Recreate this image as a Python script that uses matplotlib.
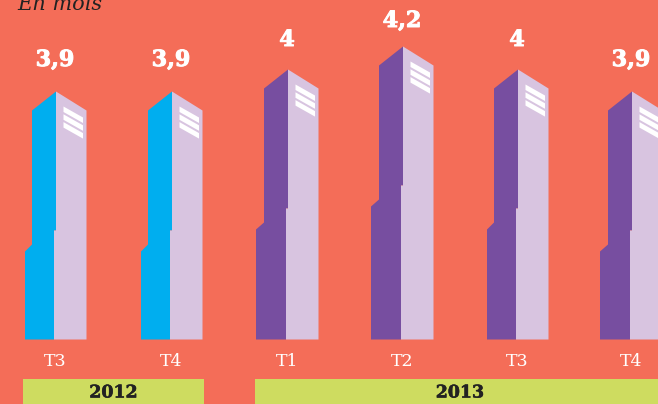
import matplotlib
matplotlib.use("Agg")
import matplotlib.pyplot as plt
import matplotlib.patheffects as pe
from matplotlib.patches import Polygon, Rectangle

quarters = ["T3", "T4", "T1", "T2", "T3", "T4"]
values = ["3,9", "3,9", "4", "4,2", "4", "3,9"]
tower_heights = [248, 248, 270, 293, 270, 248]  # drawn height of each tower
tower_spines = [56, 172, 288, 403, 518, 632]
tower_foot = [31, 31, 32, 32, 31, 32]
label_y = [60, 60, 40, 21, 40, 60]
tower_colors = ["#00AEEF", "#00AEEF", "#774EA0", "#774EA0", "#774EA0", "#774EA0"]
years = ["2012", "2013"]
year_spans = [(23, 204), (255, 665)]

BG = "#F46D58"
LAV = "#D8C4E0"
GREEN = "#CEDC60"
BASE = 339.5
SLAB = "DejaVu Serif"

fig = plt.figure(figsize=(6.58, 4.04), dpi=100, facecolor=BG)
ax = fig.add_axes([0, 0, 1, 1])
ax.set_xlim(0, 658)
ax.set_ylim(404, 0)
ax.axis("off")

for q, v, h, s, f, ly, c in zip(quarters, values, tower_heights, tower_spines, tower_foot,
                                label_y, tower_colors):
    top = BASE - h
    ax.add_patch(Polygon([(s, top), (s, top + 139), (s - 2, top + 139), (s - 2, BASE),
                          (s - f, BASE), (s - f, top + 160), (s - 24, top + 153),
                          (s - 24, top + 19)], closed=True, fc=c, ec="none"))
    ax.add_patch(Polygon([(s, top), (s + 30.5, top + 19), (s + 30.5, BASE), (s - 2, BASE),
                          (s - 2, top + 139), (s, top + 139)], closed=True, fc=LAV, ec="none"))
    for k in range(3):
        d = 7.8 * k
        ax.add_patch(Polygon([(s + 7.5, top + 15 + d), (s + 27, top + 26 + d),
                              (s + 27, top + 31.5 + d), (s + 7.5, top + 20.5 + d)],
                             closed=True, fc="white", ec="none"))
    t = ax.text(s - 1, ly, v, color="white", family=SLAB, weight="bold", fontsize=16,
                ha="center", va="center")
    t.set_path_effects([pe.withStroke(linewidth=0.7, foreground="white")])
    ax.text(s - 1, 361, q, color="white", family=SLAB, fontsize=12.5, ha="center", va="center")

for y, (x0, x1) in zip(years, year_spans):
    ax.add_patch(Rectangle((x0, 379), x1 - x0, 25, fc=GREEN, ec="none"))
    yt = ax.text((x0 + x1) / 2, 393, y, color="#222222", family=SLAB, weight="bold",
                 fontsize=12.5, ha="center", va="center")
    yt.set_path_effects([pe.withStroke(linewidth=0.4, foreground="#222222")])

ax.text(17, 10, "En mois", color="#222222", family=SLAB, style="italic", fontsize=15,
        ha="left", va="baseline")

fig.savefig("out.png", dpi=100, facecolor=BG)
